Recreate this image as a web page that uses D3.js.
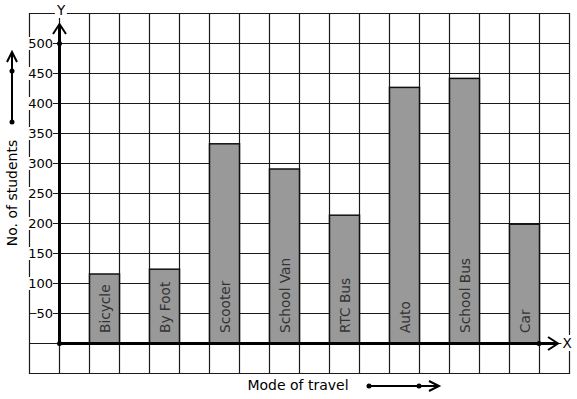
<!DOCTYPE html>
<html>
<head>
<meta charset="utf-8">
<script src="https://cdn.jsdelivr.net/npm/d3@7"></script>
<style>
  body { margin: 0; background: #fff; }
  svg { display: block; font-family: "DejaVu Sans", sans-serif; }
</style>
</head>
<body>
<div id="chart"></div>
<script>
// data
const modes = ["Bicycle", "By Foot", "Scooter", "School Van", "RTC Bus", "Auto", "School Bus", "Car"]
const students = [115, 123, 332, 290, 213, 426, 441, 198]
const yTicks = [50, 100, 150, 200, 250, 300, 350, 400, 450, 500]

const W = 577, H = 399
const svg = d3.select("#chart").append("svg")
  .attr("width", W).attr("height", H)

// scales
const y = d3.scaleLinear().domain([0, 500]).range([343, 43])
const x = d3.scaleBand().domain(modes).range([59, 569]).paddingInner(0.5).paddingOuter(0.5)
const step = y(0) - y(50)
const gLeft = x.range()[0] - step, gRight = x.range()[1]
const gTop = y(550), gBottom = y(-50)

// grid
const grid = svg.append("g").attr("stroke", "#1a1a1a").attr("stroke-width", 1.2)
d3.range(-50, 551, 50).forEach(v => {
  grid.append("line").attr("x1", gLeft).attr("x2", gRight + 1)
    .attr("y1", Math.round(y(v)) + 0.5).attr("y2", Math.round(y(v)) + 0.5)
})
for (let gx = gLeft; gx <= gRight + 0.1; gx += step) {
  grid.append("line").attr("x1", gx + 0.5).attr("x2", gx + 0.5)
    .attr("y1", gTop).attr("y2", gBottom + 1)
}

// bars
svg.append("g").selectAll("rect")
  .data(modes)
  .enter().append("rect")
  .attr("x", d => x(d) + 0.5)
  .attr("y", (d, i) => y(students[i]))
  .attr("width", x.bandwidth())
  .attr("height", (d, i) => y(0) - y(students[i]))
  .attr("fill", "#999")
  .attr("stroke", "#111")
  .attr("stroke-width", 1.5)

svg.append("g").selectAll("text")
  .data(modes)
  .enter().append("text")
  .attr("transform", d => `translate(${x(d) + x.bandwidth() / 2 + 5.5},${y(0) - 10}) rotate(-90)`)
  .attr("font-size", 13.7)
  .attr("fill", "#333")
  .text(d => d)

// y tick labels with white boxes
const yl = svg.append("g")
yTicks.forEach(v => {
  const t = yl.append("text")
    .attr("x", 53).attr("y", y(v) + 5)
    .attr("text-anchor", "end")
    .attr("font-size", 13)
    .text(v)
  const b = t.node().getBBox()
  yl.insert("rect", () => t.node())
    .attr("x", b.x).attr("y", b.y + 1)
    .attr("width", b.width).attr("height", b.height - 2)
    .attr("fill", "#fff")
})

// axes
const ax = svg.append("g").attr("stroke", "#000").attr("fill", "none")
ax.append("line").attr("x1", 59.5).attr("x2", 59.5).attr("y1", y(0)).attr("y2", 25).attr("stroke-width", 3)
ax.append("path").attr("d", `M53,34 L59.5,24 L66,34`).attr("stroke-width", 2)
ax.append("line").attr("x1", 59).attr("x2", 556).attr("y1", y(0) + 0.5).attr("y2", y(0) + 0.5).attr("stroke-width", 3)
ax.append("path").attr("d", `M548,337 L558,${y(0) + 0.5} L548,350`).attr("stroke-width", 2)
const dots = [[59.5, y(0) + 0.5], [59.5, y(500) + 0.5], [539, y(0) + 0.5]]
svg.append("g").selectAll("circle").data(dots).enter().append("circle")
  .attr("cx", d => d[0]).attr("cy", d => d[1]).attr("r", 2.5).attr("fill", "#000")

// axis names
const axisName = (tx, ty, s) => {
  const t = svg.append("text").attr("x", tx).attr("y", ty).attr("text-anchor", "middle")
    .attr("font-size", 13.5).text(s)
  const b = t.node().getBBox()
  svg.insert("rect", () => t.node())
    .attr("x", b.x - 1).attr("y", b.y).attr("width", b.width + 2).attr("height", b.height)
    .attr("fill", "#fff")
}
axisName(61, 15, "Y")
axisName(567, 348, "X")

svg.append("text")
  .attr("transform", "translate(17,193) rotate(-90)")
  .attr("text-anchor", "middle").attr("font-size", 14)
  .text("No. of students")

svg.append("text")
  .attr("x", 298).attr("y", 390)
  .attr("text-anchor", "middle").attr("font-size", 14)
  .text("Mode of travel")

// decorative arrows
const deco = svg.append("g").attr("stroke", "#000").attr("fill", "none").attr("stroke-width", 2)
deco.append("line").attr("x1", 12).attr("x2", 12).attr("y1", 122).attr("y2", 53)
deco.append("path").attr("d", "M7,62 L12,52 L17,62")
deco.append("line").attr("x1", 369).attr("x2", 438).attr("y1", 386).attr("y2", 386)
deco.append("path").attr("d", "M429,381 L439,386 L429,391")
const ddots = [[12, 122], [12, 71], [369, 386], [419, 386]]
svg.append("g").selectAll("circle").data(ddots).enter().append("circle")
  .attr("cx", d => d[0]).attr("cy", d => d[1]).attr("r", 2.5).attr("fill", "#000")
</script>
</body>
</html>
